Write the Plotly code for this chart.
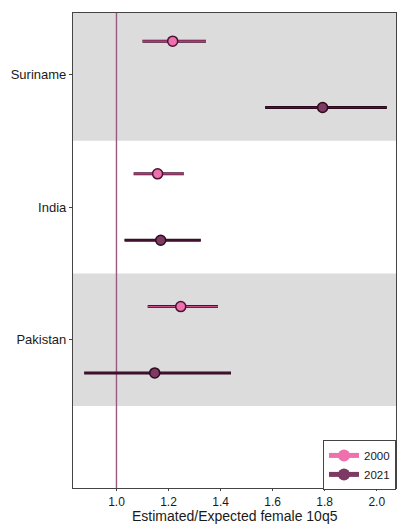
import plotly.graph_objects as go

# Country-level ratio of estimated to expected female under-5 mortality (10q5)
countries = ["Suriname", "India", "Pakistan"]
years = ["2000", "2021"]

ratio_2000 = [1.216, 1.158, 1.247]
lower_2000 = [1.100, 1.066, 1.120]
upper_2000 = [1.344, 1.259, 1.390]

ratio_2021 = [1.792, 1.170, 1.147]
lower_2021 = [1.571, 1.031, 0.876]
upper_2021 = [2.039, 1.324, 1.440]

x_ticks = [1.0, 1.2, 1.4, 1.6, 1.8, 2.0]
x_title = "Estimated/Expected female 10q5"

series = {
    "2000": dict(mid=ratio_2000, lo=lower_2000, hi=upper_2000,
                 fill="#ee70ad", line="#c94d8b", edge="#4a1233", offset=-0.25),
    "2021": dict(mid=ratio_2021, lo=lower_2021, hi=upper_2021,
                 fill="#7d3a63", line="#4a1535", edge="#2e0a1f", offset=0.25),
}

fig = go.Figure()

pos = list(range(len(countries)))

# alternating grey bands behind every other country
shapes = []
for i in pos:
    if i % 2 == 0:
        shapes.append(dict(type="rect", xref="paper", yref="y", x0=0, x1=1,
                           y0=i - 0.5, y1=i + 0.5, fillcolor="#dcdcdc",
                           line=dict(width=0), layer="below"))
# reference line at ratio = 1
shapes.append(dict(type="line", xref="x", yref="paper", x0=1, x1=1, y0=0, y1=1,
                   line=dict(color="#98587f", width=1.4), layer="below"))

for yr in years:
    s = series[yr]
    ys = [p + s["offset"] for p in pos]
    plus = [h - m for h, m in zip(s["hi"], s["mid"])]
    minus = [m - l for m, l in zip(s["mid"], s["lo"])]
    # dark outline under the interval line
    fig.add_trace(go.Scatter(
        x=s["mid"], y=ys, mode="markers", marker=dict(size=1, opacity=0),
        error_x=dict(type="data", array=plus, arrayminus=minus, symmetric=False,
                     color=s["edge"], thickness=3, width=0),
        showlegend=False, hoverinfo="skip"))
    # interval line and point estimate
    fig.add_trace(go.Scatter(
        x=s["mid"], y=ys, mode="markers",
        marker=dict(size=10, color=s["fill"], line=dict(color=s["edge"], width=1.5)),
        error_x=dict(type="data", array=plus, arrayminus=minus, symmetric=False,
                     color=s["line"], thickness=1.2, width=0),
        showlegend=False, name=yr))
    # legend entry
    fig.add_trace(go.Scatter(
        x=[None], y=[None], mode="lines+markers", name=yr,
        line=dict(color=s["fill"], width=4),
        marker=dict(size=10, color=s["fill"])))

fig.update_layout(
    width=397, height=525,
    margin=dict(l=73, r=1, t=13, b=37),
    plot_bgcolor="white", paper_bgcolor="white",
    font=dict(family="Liberation Sans, Arial, sans-serif", size=13, color="#1a1a1a"),
    shapes=shapes,
    annotations=[dict(text=x_title, xref="paper", yref="paper", x=0.5, y=0,
                      xanchor="center", yanchor="bottom", yshift=-37,
                      borderpad=0, showarrow=False, font=dict(size=14))],
    showlegend=True,
    legend=dict(x=1, y=-0.004, xanchor="right", yanchor="bottom",
                bgcolor="white", bordercolor="#444444", borderwidth=1,
                font=dict(size=11.5), itemwidth=30, tracegroupgap=0,
                itemsizing="constant"),
    xaxis=dict(range=[0.833, 2.074], tickvals=x_ticks,
               ticktext=[f"{v:.1f}" for v in x_ticks],
               showgrid=False, zeroline=False, automargin=False,
               showline=True, linecolor="#444444", linewidth=1.2, mirror=True,
               ticks="outside", ticklen=2, tickcolor="#444444",
               tickfont=dict(size=12)),
    yaxis=dict(range=[3.117, -0.462], tickvals=pos, ticktext=countries,
               showgrid=False, zeroline=False, automargin=False,
               showline=True, linecolor="#444444", linewidth=1.2, mirror=True,
               ticks="outside", ticklen=3, tickcolor="#444444",
               tickfont=dict(size=13)),
)

fig.write_html("out.html")
